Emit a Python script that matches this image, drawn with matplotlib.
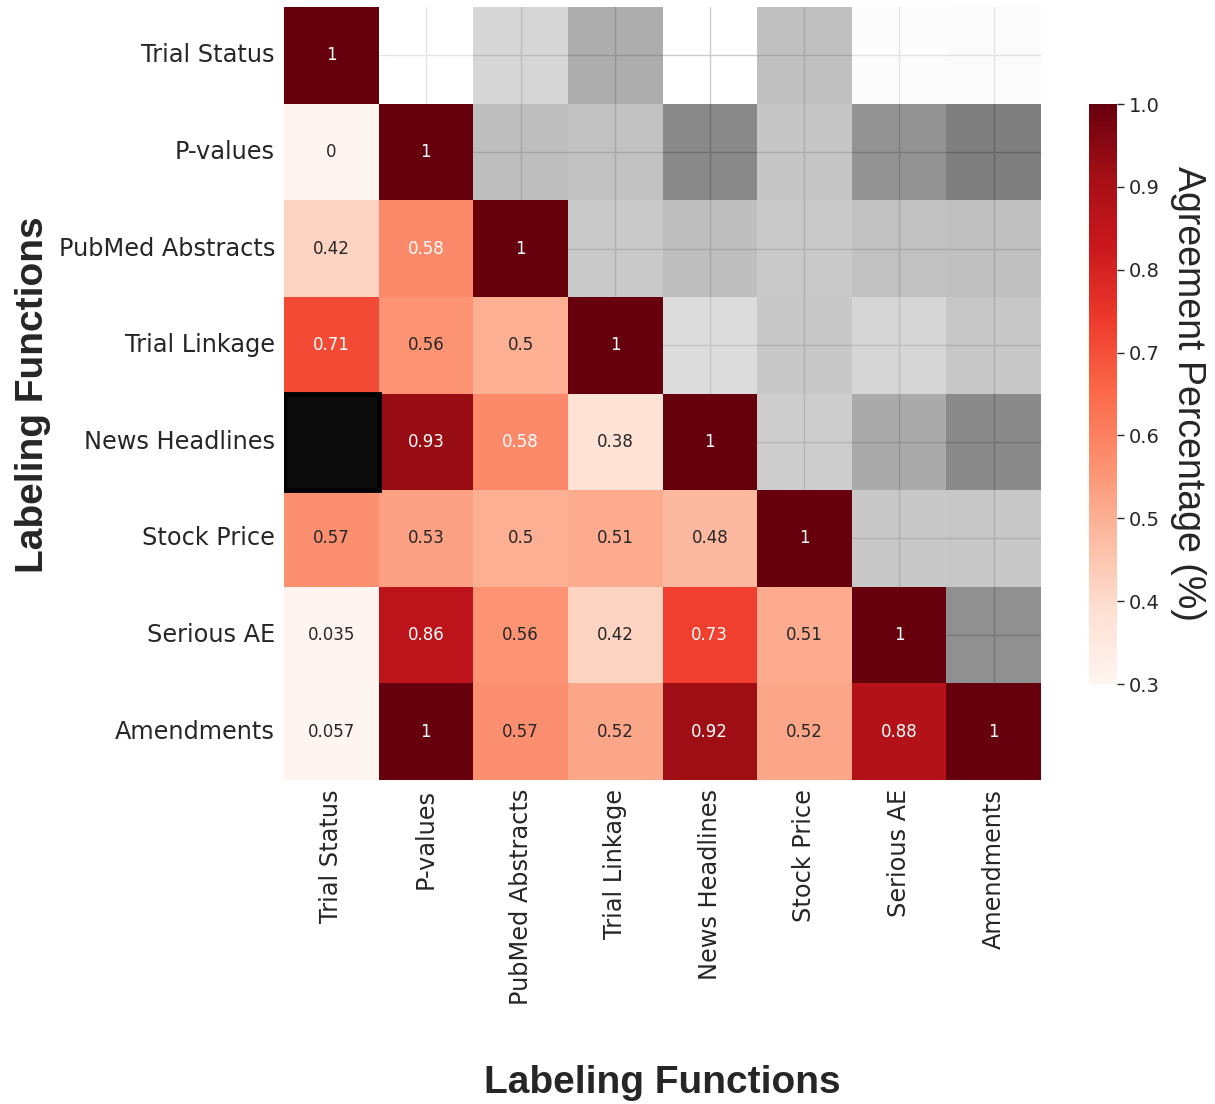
import numpy as np
import matplotlib
matplotlib.use('Agg')
import matplotlib.pyplot as plt
import seaborn as sns
from matplotlib.patches import Rectangle

labels = ['Trial Status', 'P-values', 'PubMed Abstracts', 'Trial Linkage',
          'News Headlines', 'Stock Price', 'Serious AE', 'Amendments']

# lower triangle of the agreement matrix, one list per row (nan = blacked out cell)
row_trial_status = [1]
row_pvalues = [0, 1]
row_pubmed = [0.42, 0.58, 1]
row_linkage = [0.71, 0.56, 0.5, 1]
row_news = [np.nan, 0.93, 0.58, 0.38, 1]
row_stock = [0.57, 0.53, 0.5, 0.51, 0.48, 1]
row_serious = [0.035, 0.86, 0.56, 0.42, 0.73, 0.51, 1]
row_amend = [0.057, 1, 0.57, 0.52, 0.92, 0.52, 0.88, 1]

rows = [row_trial_status, row_pvalues, row_pubmed, row_linkage,
        row_news, row_stock, row_serious, row_amend]
n = len(labels)
lower = np.full((n, n), np.nan)
for i, r in enumerate(rows):
    lower[i, :len(r)] = r
upper = lower.T.copy()

sns.set_style('whitegrid')
plt.rcParams['font.family'] = ['DejaVu Sans']

fig = plt.figure(figsize=(12.15, 11.04), dpi=100)
ax = fig.add_axes([284 / 1215, 1 - 780 / 1104, 757 / 1215, 773 / 1104])
cax = fig.add_axes([1089 / 1215, 1 - 684 / 1104, 28 / 1215, 580 / 1104])

# grey mirror of the matrix above the diagonal
mask_up = np.tril(np.ones((n, n), dtype=bool))
sns.heatmap(upper, mask=mask_up, cmap='Greys', vmin=0, vmax=1, alpha=0.5,
            cbar=False, ax=ax)

# red lower triangle with values
mask_low = np.triu(np.ones((n, n), dtype=bool), k=1)
sns.heatmap(lower, mask=mask_low, cmap='Reds', vmin=0.3, vmax=1.0, annot=True,
            annot_kws={'size': 12}, cbar_ax=cax, ax=ax)

ax.add_patch(Rectangle((0, 4), 1, 1, facecolor='#0b0b0b', edgecolor='black',
                       lw=3.5, zorder=5))

ax.set_axisbelow(True)
ax.grid(True, color='#cccccc', lw=1)
ax.set_xticks(np.arange(n) + 0.5)
ax.set_yticks(np.arange(n) + 0.5)
ax.set_xticklabels(labels, rotation=90, fontsize=17.3, color='#262626')
ax.set_yticklabels(labels, rotation=0, fontsize=17.3, color='#262626')
ax.tick_params(length=3, width=0.8, color='#dddddd')
for s in ax.spines.values():
    s.set_visible(False)

cax.tick_params(labelsize=14, length=5, width=1, color='#262626', labelcolor='#262626')
cax.set_yticks([0.3, 0.4, 0.5, 0.6, 0.7, 0.8, 0.9, 1.0])
cax.set_yticklabels(['0.3', '0.4', '0.5', '0.6', '0.7', '0.8', '0.9', '1.0'])
cax.set_ylabel('Agreement Percentage (%)', rotation=270, fontsize=27,
               family='Liberation Sans', labelpad=33)

fig.text(662 / 1215, 1 - 1083 / 1104, 'Labeling Functions', ha='center', va='center',
         fontsize=28, fontweight='bold', family='Liberation Sans')
fig.text(33 / 1215, 1 - 395 / 1104, 'Labeling Functions', ha='center', va='center',
         rotation=90, fontsize=28, fontweight='bold', family='Liberation Sans')

fig.savefig('out.png', dpi=100)
